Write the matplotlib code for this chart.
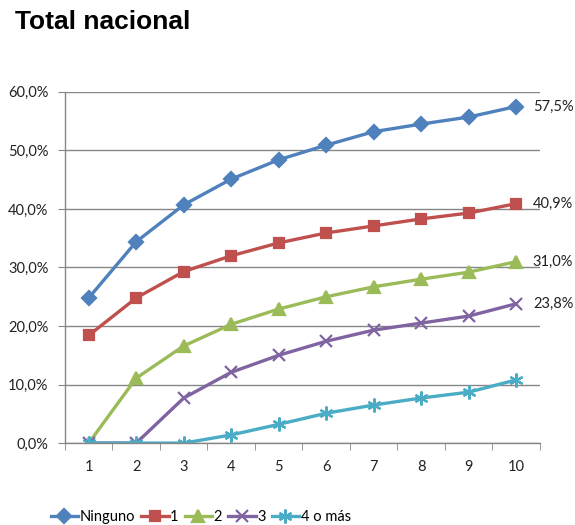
import numpy as np
import matplotlib
matplotlib.use("Agg")
import matplotlib.pyplot as plt

x = np.arange(1, 11)
series_names = ["Ninguno", "1", "2", "3", "4 o más"]
ninguno = [24.8, 34.4, 40.7, 45.1, 48.4, 50.9, 53.2, 54.5, 55.7, 57.5]
uno = [18.4, 24.8, 29.3, 32.0, 34.2, 35.9, 37.1, 38.3, 39.3, 40.9]
dos = [0.0, 11.1, 16.6, 20.3, 22.9, 25.0, 26.7, 28.0, 29.2, 31.0]
tres = [0.0, 0.0, 7.7, 12.1, 15.0, 17.4, 19.3, 20.5, 21.7, 23.8]
cuatro = [0.0, 0.0, 0.0, 1.4, 3.2, 5.1, 6.5, 7.7, 8.7, 10.8]
end_labels = ["57,5%", "40,9%", "31,0%", "23,8%"]

colors = ["#4F81BD", "#C0504D", "#9BBB59", "#8064A2", "#4BACC6"]
markers = ["D", "s", "^", "x", (6, 2, 0)]
msizes = [7, 7.5, 8.5, 8, 10]

plt.rcParams['font.family'] = ['Lato', 'DejaVu Sans']

fig = plt.figure(figsize=(5.75, 5.25), dpi=100)
ax = fig.add_axes([0.113, 0.156, 0.826, 0.669])

all_series = [ninguno, uno, dos, tres, cuatro]
for vals, name, c, m, ms in zip(all_series, series_names, colors, markers, msizes):
    ax.plot(x, vals, color=c, lw=2.4, marker=m, ms=ms, mew=1.6,
            markeredgecolor=c, markerfacecolor=c, label=name, zorder=3)

# etiquetas al final de las curvas
for vals, lab in zip(all_series[:4], end_labels):
    ax.annotate(lab, (x[-1], vals[-1]), xytext=(12, 0), textcoords="offset points",
                va="center", ha="left", fontsize=10.5, color="#222222",
                annotation_clip=False)

ax.set_xlim(0.5, 10.5)
ax.set_ylim(0, 60)
ax.set_yticks(np.arange(0, 61, 10))
ax.set_yticklabels([("%.1f%%" % v).replace(".", ",") for v in np.arange(0, 61, 10)])
ax.set_xticks(x)
ax.set_xticklabels([str(v) for v in x])
ax.set_xticks(np.arange(0.5, 11, 1), minor=True)
ax.tick_params(axis="x", which="major", length=0, pad=12, labelsize=10.5, colors="#222222")
ax.tick_params(axis="x", which="minor", length=5, color="#868686", direction="out")
ax.tick_params(axis="y", length=5, color="#868686", labelsize=10.5, labelcolor="#222222", pad=7)

ax.grid(axis="y", color="#868686", lw=1)
ax.set_axisbelow(True)
for s in ["top", "right"]:
    ax.spines[s].set_visible(False)
for s in ["left", "bottom"]:
    ax.spines[s].set_color("#868686")
    ax.spines[s].set_linewidth(1)
ax.spines["bottom"].set_zorder(4)

fig.text(0.026, 0.958, "Total nacional", fontsize=19, fontweight="bold",
         family=["Liberation Sans", "DejaVu Sans"], va="center", ha="left")

fig.legend(loc="center left", bbox_to_anchor=(0.065, 0.015), ncol=5, frameon=False,
           fontsize=10.5, handlelength=1.9, handletextpad=0.1, columnspacing=0.4)

fig.savefig("out.png", dpi=100)
